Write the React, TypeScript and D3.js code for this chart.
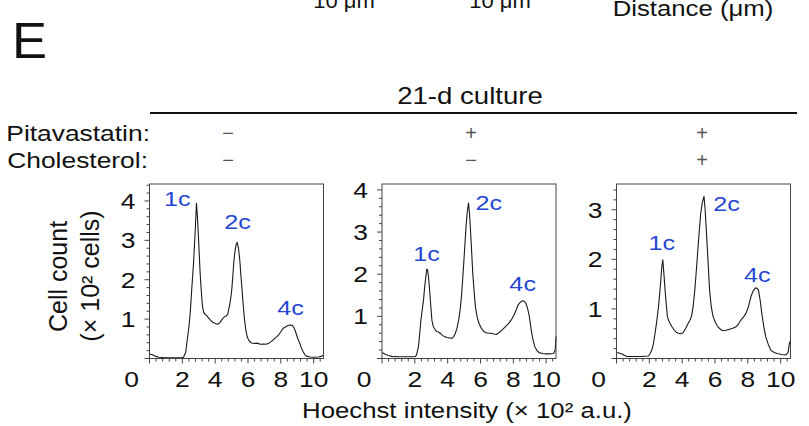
import React from "react";
import * as d3 from "d3";

// Hoechst intensity (x 10^2 a.u.) and cell counts (x 10^2 cells) for each condition
const hoechstCtrl = [0, 0.15, 0.35, 0.55, 1.0, 1.5, 1.9, 2.07, 2.2, 2.3, 2.4, 2.48, 2.58, 2.68, 2.78, 2.86, 2.92, 3.01, 3.08, 3.15, 3.22, 3.29, 3.38, 3.46, 3.58, 3.7, 3.85, 4.01, 4.15, 4.27, 4.4, 4.56, 4.68, 4.76, 4.88, 4.99, 5.06, 5.13, 5.2, 5.27, 5.34, 5.42, 5.5, 5.57, 5.64, 5.72, 5.79, 5.87, 5.95, 6.05, 6.19, 6.35, 6.56, 6.75, 6.97, 7.1, 7.28, 7.45, 7.58, 7.75, 7.89, 8.0, 8.15, 8.28, 8.4, 8.55, 8.7, 8.8, 8.9, 9.02, 9.15, 9.25, 9.36, 9.46, 9.56, 9.8, 10.03, 10.3, 10.5, 10.6];
const countCtrl = [0.11, 0.1, 0.06, 0.03, 0.02, 0.02, 0.02, 0.03, 0.15, 0.47, 0.8, 1.15, 1.8, 2.4, 3.2, 3.94, 3.6, 2.84, 2.2, 1.74, 1.35, 1.19, 1.12, 1.1, 1.04, 0.98, 0.92, 0.89, 0.87, 0.9, 0.98, 1.06, 1.08, 1.12, 1.35, 1.65, 2.0, 2.42, 2.7, 2.88, 2.95, 2.8, 2.5, 2.1, 1.74, 1.3, 0.98, 0.72, 0.55, 0.46, 0.4, 0.38, 0.39, 0.36, 0.37, 0.36, 0.39, 0.44, 0.49, 0.55, 0.61, 0.68, 0.77, 0.8, 0.83, 0.85, 0.84, 0.78, 0.68, 0.52, 0.39, 0.27, 0.17, 0.1, 0.06, 0.04, 0.03, 0.04, 0.06, 0.09];

const hoechstPita = [0, 0.2, 0.39, 0.6, 1.0, 1.5, 2.0, 2.1, 2.22, 2.3, 2.37, 2.45, 2.53, 2.6, 2.67, 2.73, 2.78, 2.84, 2.9, 2.97, 3.04, 3.12, 3.24, 3.34, 3.45, 3.55, 3.65, 3.8, 3.96, 4.1, 4.27, 4.37, 4.47, 4.57, 4.67, 4.76, 4.84, 4.91, 4.98, 5.05, 5.12, 5.2, 5.27, 5.33, 5.39, 5.46, 5.53, 5.61, 5.69, 5.8, 5.9, 6.05, 6.2, 6.35, 6.51, 6.65, 6.82, 6.97, 7.12, 7.28, 7.43, 7.58, 7.73, 7.9, 8.04, 8.17, 8.29, 8.42, 8.55, 8.66, 8.76, 8.86, 8.96, 9.04, 9.12, 9.2, 9.31, 9.44, 9.57, 9.8, 9.98, 10.2, 10.45, 10.55, 10.6];
const countPita = [0.14, 0.1, 0.07, 0.05, 0.04, 0.04, 0.04, 0.08, 0.28, 0.6, 0.91, 1.15, 1.39, 1.7, 1.94, 2.12, 2.1, 1.9, 1.63, 1.25, 0.91, 0.76, 0.68, 0.64, 0.63, 0.6, 0.56, 0.52, 0.5, 0.49, 0.48, 0.52, 0.6, 0.72, 0.91, 1.15, 1.47, 1.85, 2.26, 2.7, 3.13, 3.5, 3.69, 3.45, 3.05, 2.55, 2.02, 1.6, 1.23, 0.98, 0.84, 0.72, 0.64, 0.61, 0.6, 0.6, 0.58, 0.57, 0.61, 0.66, 0.72, 0.78, 0.84, 0.93, 1.03, 1.15, 1.27, 1.33, 1.37, 1.36, 1.31, 1.2, 1.03, 0.82, 0.6, 0.44, 0.28, 0.19, 0.14, 0.12, 0.11, 0.11, 0.12, 0.2, 0.52];

const hoechstPitaChol = [0, 0.15, 0.34, 0.5, 0.64, 1.0, 1.5, 1.95, 2.05, 2.15, 2.25, 2.35, 2.45, 2.56, 2.63, 2.7, 2.76, 2.82, 2.89, 2.96, 3.03, 3.1, 3.18, 3.26, 3.38, 3.5, 3.63, 3.76, 3.9, 4.06, 4.2, 4.37, 4.47, 4.57, 4.67, 4.77, 4.87, 4.97, 5.05, 5.13, 5.23, 5.33, 5.4, 5.47, 5.57, 5.67, 5.77, 5.88, 6.03, 6.18, 6.33, 6.48, 6.68, 6.88, 7.08, 7.28, 7.44, 7.59, 7.74, 7.89, 8.04, 8.19, 8.32, 8.45, 8.55, 8.65, 8.75, 8.85, 8.97, 9.09, 9.25, 9.4, 9.6, 9.8, 10.05, 10.3, 10.45, 10.55];
const countPitaChol = [0.12, 0.11, 0.09, 0.06, 0.04, 0.04, 0.04, 0.05, 0.1, 0.17, 0.3, 0.51, 0.75, 1.05, 1.3, 1.59, 1.85, 1.99, 1.7, 1.38, 1.1, 0.85, 0.76, 0.71, 0.64, 0.58, 0.53, 0.51, 0.5, 0.52, 0.6, 0.71, 0.77, 0.85, 1.05, 1.38, 1.8, 2.26, 2.6, 2.93, 3.15, 3.27, 3.0, 2.6, 2.0, 1.38, 1.05, 0.85, 0.72, 0.64, 0.59, 0.56, 0.57, 0.59, 0.61, 0.64, 0.7, 0.78, 0.84, 0.91, 1.05, 1.25, 1.36, 1.42, 1.42, 1.38, 1.18, 0.91, 0.65, 0.44, 0.28, 0.17, 0.12, 0.1, 0.08, 0.07, 0.12, 0.34];

// Axis ranges and ticks
const xMax = 10.6;
const xTickLabels = [2, 4, 6, 8, 10];
const yMaxes = [4.43, 4.14, 3.52];
const yTickLabels = [[1, 2, 3, 4], [1, 2, 3, 4], [1, 2, 3]];

// Treatment rows
const pitavastatin = ["−", "+", "+"];
const cholesterol = ["−", "−", "+"];

// Ploidy peak labels: [label, hoechst, count] for the text centre
const peakLabelsCtrl: [string, number, number][] = [["1c", 1.7, 4.07], ["2c", 5.37, 3.47], ["4c", 8.6, 1.29]];
const peakLabelsPita: [string, number, number][] = [["1c", 2.71, 2.5], ["2c", 6.51, 3.69], ["4c", 8.57, 1.79]];
const peakLabelsPitaChol: [string, number, number][] = [["1c", 2.76, 2.34], ["2c", 6.71, 3.12], ["4c", 8.58, 1.69]];

const FONT = "'Liberation Sans', Arial, Helvetica, sans-serif";
const SX = 1.2;
const BLUE = "#2446d2";

type TProps = {
  x: number;
  y: number;
  size: number;
  anchor?: "start" | "middle" | "end";
  sx?: number;
  fill?: string;
  children: React.ReactNode;
};

function T({ x, y, size, anchor = "start", sx = SX, fill = "#111", children }: TProps) {
  return (
    <text
      transform={`translate(${x},${y}) scale(${sx},1)`}
      textAnchor={anchor}
      fontSize={size}
      fontFamily={FONT}
      fill={fill}
    >
      {children}
    </text>
  );
}

type PanelProps = {
  left: number;
  top: number;
  width: number;
  height: number;
  xs: number[];
  ys: number[];
  yMax: number;
  yTicks: number[];
  labels: [string, number, number][];
};

function Panel({ left, top, width, height, xs, ys, yMax, yTicks, labels }: PanelProps) {
  const x = d3.scaleLinear().domain([0, xMax]).range([left, left + width]);
  const y = d3.scaleLinear().domain([0, yMax]).range([top + height, top]);
  const pts = xs.map((v, i) => [v, ys[i]] as [number, number]);
  const path = d3
    .line<[number, number]>()
    .x((d) => x(d[0]))
    .y((d) => y(d[1]))
    .curve(d3.curveLinear)(pts) as string;

  const xMinor = d3.range(0, xMax + 1e-6, 0.4);
  const yMinor = d3.range(0, yMax + 1e-6, 0.2);
  const bottom = top + height;

  return (
    <g>
      {/* histogram trace */}
      <path d={path} fill="none" stroke="#1a1a1a" strokeWidth={1.1} strokeLinejoin="round" />
      {/* frame */}
      <rect x={left} y={top} width={width} height={height} fill="none" stroke="#444" strokeWidth={1} />
      {/* x ticks */}
      {xMinor.map((v, i) => {
        const major = Math.abs(v / 2 - Math.round(v / 2)) < 1e-6;
        return (
          <line key={"xt" + i} x1={x(v)} x2={x(v)} y1={bottom} y2={bottom + (major ? 5 : 3)} stroke="#444" strokeWidth={1} />
        );
      })}
      {/* y ticks */}
      {yMinor.map((v, i) => {
        const major = Math.abs(v - Math.round(v)) < 1e-6;
        return (
          <line key={"yt" + i} x1={left - (major ? 5 : 3)} x2={left} y1={y(v)} y2={y(v)} stroke="#444" strokeWidth={1} />
        );
      })}
      {/* tick labels */}
      {xTickLabels.map((v) => (
        <T key={"xl" + v} x={x(v)} y={386.5} size={22} anchor="middle">
          {v}
        </T>
      ))}
      <T x={left - 18} y={386.5} size={22} anchor="middle">
        0
      </T>
      {yTicks.map((v) => (
        <T key={"yl" + v} x={left - 14} y={y(v) + 8} size={22} anchor="end">
          {v}
        </T>
      ))}
      {/* peak labels */}
      {labels.map(([name, hx, cy]) => (
        <T key={name} x={x(hx)} y={y(cy) + 7.5} size={21} anchor="middle" fill={BLUE}>
          {name}
        </T>
      ))}
    </g>
  );
}

export default function App() {
  const top = 184;
  const height = 174.5;
  const width = 174;
  const lefts = [149.5, 382, 616.5];
  const symbolX = [228, 471, 702];
  const panels = [
    { xs: hoechstCtrl, ys: countCtrl, labels: peakLabelsCtrl },
    { xs: hoechstPita, ys: countPita, labels: peakLabelsPita },
    { xs: hoechstPitaChol, ys: countPitaChol, labels: peakLabelsPitaChol },
  ];

  return (
    <svg
      width={809}
      height={426}
      viewBox="0 0 809 426"
      style={{ position: "absolute", left: 0, top: 0, background: "#fff" }}
    >
      <rect width={809} height={426} fill="#fff" />

      {/* captions of the panel above, running off the top edge */}
      <T x={344} y={7.5} size={20} anchor="middle" sx={1.1}>10 μm</T>
      <T x={500} y={7.5} size={20} anchor="middle" sx={1.1}>10 μm</T>
      <T x={693} y={16} size={22} anchor="middle" sx={1.17}>Distance (μm)</T>

      {/* panel letter */}
      <T x={12} y={58} size={50} sx={1.05}>E</T>

      {/* header */}
      <T x={470} y={104} size={23} anchor="middle">21-d culture</T>
      <line x1={150} x2={797} y1={113} y2={113} stroke="#111" strokeWidth={2} />

      <T x={150} y={141} size={22} anchor="end">Pitavastatin:</T>
      <T x={148} y={168} size={22} anchor="end">Cholesterol:</T>
      {pitavastatin.map((s, i) => (
        <T key={"p" + i} x={symbolX[i]} y={140} size={20} anchor="middle" sx={1} fill="#555">
          {s}
        </T>
      ))}
      {cholesterol.map((s, i) => (
        <T key={"c" + i} x={symbolX[i]} y={167} size={20} anchor="middle" sx={1} fill="#555">
          {s}
        </T>
      ))}

      {panels.map((p, i) => (
        <Panel
          key={i}
          left={lefts[i]}
          top={top}
          width={width}
          height={height}
          xs={p.xs}
          ys={p.ys}
          yMax={yMaxes[i]}
          yTicks={yTickLabels[i]}
          labels={p.labels}
        />
      ))}

      {/* axis titles */}
      <text
        transform="translate(66.5,276.5) rotate(-90)"
        textAnchor="middle"
        fontSize={25}
        fontFamily={FONT}
        fill="#111"
      >
        Cell count
      </text>
      <text
        transform="translate(99,276) rotate(-90)"
        textAnchor="middle"
        fontSize={25}
        fontFamily={FONT}
        fill="#111"
      >
        (× 10² cells)
      </text>
      <T x={467} y={418} size={23} anchor="middle" sx={1.12}>
        Hoechst intensity (× 10² a.u.)
      </T>
    </svg>
  );
}
